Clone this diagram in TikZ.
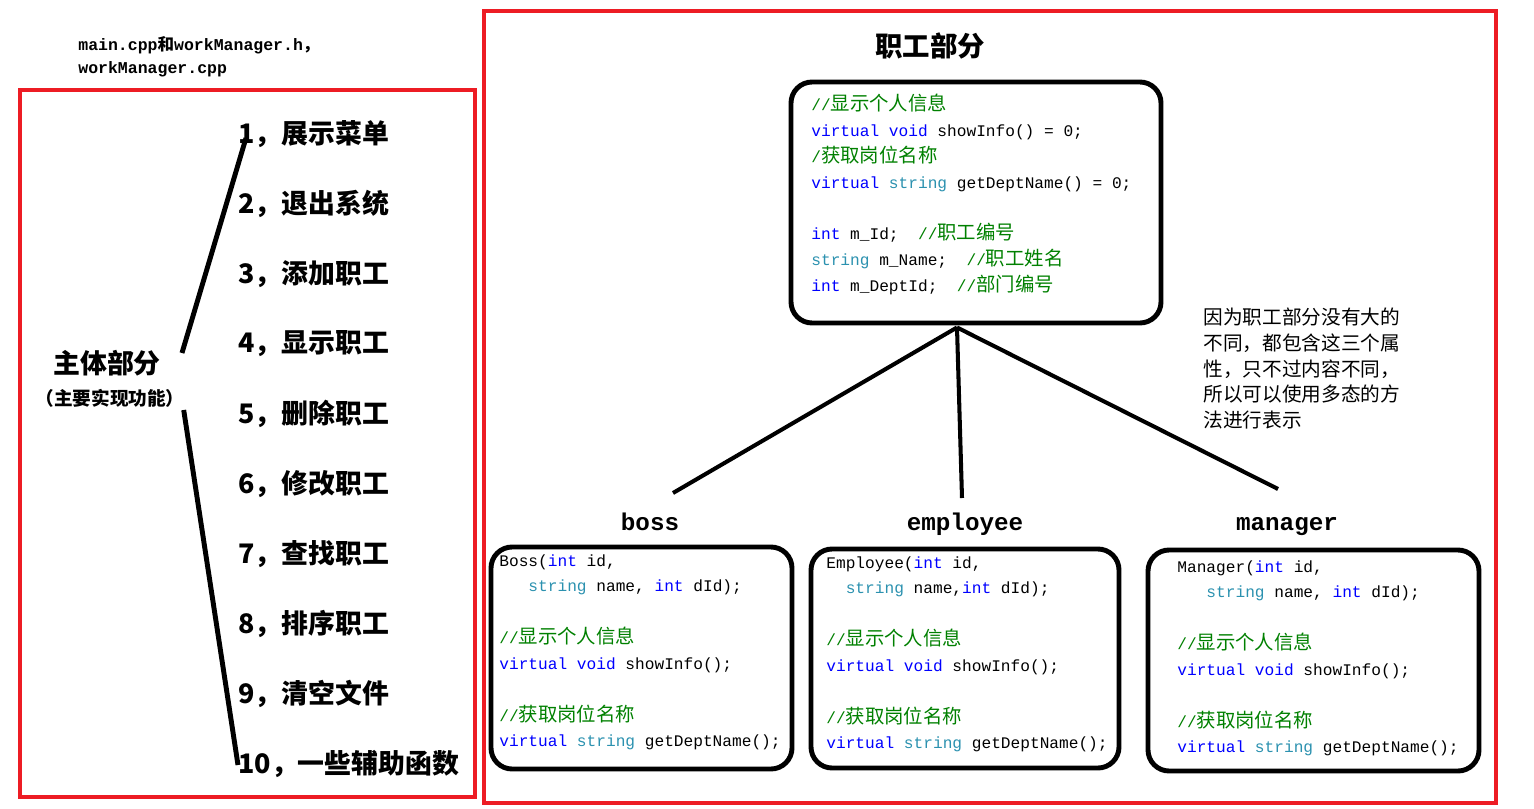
\documentclass[tikz,border=0pt]{standalone}
\usepackage{fontspec}
\setmonofont{Liberation Mono}
\newfontfamily\cjk{Noto Sans CJK SC}
\newfontfamily\cjkcode{Noto Sans CJK SC}[Scale=1.2]
\usetikzlibrary{positioning}
\usetikzlibrary{fit}
\usetikzlibrary{calc}
\definecolor{framered}{HTML}{ED1C24}
\definecolor{kwblue}{HTML}{0000FF}
\definecolor{tyteal}{HTML}{2B91AF}
\definecolor{cmgreen}{HTML}{008000}
\newcommand\kw[1]{\textcolor{kwblue}{#1}}
\newcommand\ty[1]{\textcolor{tyteal}{#1}}
\newcommand\cm[1]{\textcolor{cmgreen}{#1}}
\newcommand\zh[1]{{\cjkcode #1}}
\tikzset{frame/.style = {draw=framered, line width=2.3pt}}
\tikzset{codebox/.style = {draw, line width=2.8pt, rounded corners=12pt, inner sep=0}}
\tikzset{codetext/.style = {anchor=north west, inner sep=0, align=left, font=\ttfamily\fontsize{9.2}{14.7}\selectfont}}
\tikzset{menuitem/.style = {anchor=west, inner sep=0, font=\cjk\bfseries\fontsize{15.3}{18}\selectfont}}
\tikzset{classname/.style = {anchor=base, inner sep=0, font=\ttfamily\bfseries\fontsize{13.8}{16}\selectfont}}
\tikzset{link/.style = {line width=2.3pt}}
\tikzset{brace/.style = {line width=2.8pt}}

\begin{document}
\begin{tikzpicture}[x=0.02cm, y=-0.02cm]
        \useasboundingbox (0,0) rectangle (1534,808);
        % files note and the two frames
        \node[anchor=west, inner sep=0, align=left, font=\ttfamily\bfseries\fontsize{9.4}{13}\selectfont] (files) at (78,57) {main.cpp{\cjk 和}workManager.h{\cjk ，}\\workManager.cpp};
        \draw[frame] (20,90) rectangle (475,797);
        \draw[frame] (484,11) rectangle (1496,803);

        % left part: menu
        \node[font=\cjk\bfseries\fontsize{15.3}{18}\selectfont] (main) at (107,363) {主体部分};
        \node[font=\cjk\bfseries\fontsize{10.6}{12}\selectfont] (mainsub) at (110,398) {（主要实现功能）};
        \foreach \n/\t in {1/展示菜单, 2/退出系统, 3/添加职工, 4/显示职工, 5/删除职工, 6/修改职工, 7/查找职工, 8/排序职工, 9/清空文件, 10/一些辅助函数}
            \node[menuitem] (item\n) at (238,64+70*\n) {\n，\t};
        \draw[brace] ($(main.east)+(15,-10)$) -- ($(item1.west)+(8,4)$);
        \draw[brace] ($(mainsub.east)+(-7,12)$) -- ($(item10.west)+(0,1)$);

        % right part: worker classes
        \node[font=\cjk\bfseries\fontsize{15.6}{18}\selectfont] (title) at (930,46) {职工部分};
        \node[codebox, fit={(791,82) (1161,323)}] (topbox) {};
        \node[codetext] (toptext) at (811,94) {\cm{//\zh{显示个人信息}}\\
            \kw{virtual} \kw{void} showInfo() = 0;\\
            \cm{/\zh{获取岗位名称}}\\
            \kw{virtual} \ty{string} getDeptName() = 0;\\[14.7pt]
            \kw{int} m\_Id;~~\cm{//\zh{职工编号}}\\
            \ty{string} m\_Name;~~\cm{//\zh{职工姓名}}\\
            \kw{int} m\_DeptId;~~\cm{//\zh{部门编号}}};
        \node[anchor=north west, inner sep=0, align=left, font=\cjk\fontsize{11.2}{14.6}\selectfont] (note) at (1203,308) {因为职工部分没有大的\\不同，都包含这三个属\\性，只不过内容不同，\\所以可以使用多态的方\\法进行表示};

        \node[classname] (boss) at (650,530) {boss};
        \node[classname] (employee) at (965,530) {employee};
        \node[classname] (manager) at (1287,530) {manager};
        \draw[link] ($(topbox.south)+(-19,2)$) -- ($(boss.base)+(23,-37)$);
        \draw[link] ($(topbox.south)+(-19,2)$) -- ($(employee.base)+(-3,-32)$);
        \draw[link] ($(topbox.south)+(-19,2)$) -- ($(manager.base)+(-9,-41)$);

        \node[codebox, fit={(491,547) (792,769)}] (bossbox) {};
        \node[codetext] (bosstext) at (499,554) {Boss(\kw{int} id,\\
            \mbox{}~~~\ty{string} name,~\kw{int} dId);\\[14.7pt]
            \cm{//\zh{显示个人信息}}\\
            \kw{virtual} \kw{void} showInfo();\\[14.7pt]
            \cm{//\zh{获取岗位名称}}\\
            \kw{virtual} \ty{string} getDeptName();};
        \node[codebox, fit={(811,549) (1119,768)}] (employeebox) {};
        \node[codetext] (employeetext) at (826,556) {Employee(\kw{int} id,\\
            \mbox{}~~\ty{string} name,\kw{int} dId);\\[14.7pt]
            \cm{//\zh{显示个人信息}}\\
            \kw{virtual} \kw{void} showInfo();\\[14.7pt]
            \cm{//\zh{获取岗位名称}}\\
            \kw{virtual} \ty{string} getDeptName();};
        \node[codebox, fit={(1148,550) (1479,771)}] (managerbox) {};
        \node[codetext] (managertext) at (1177,560) {Manager(\kw{int} id,\\
            \mbox{}~~~\ty{string} name,~\kw{int} dId);\\[14.7pt]
            \cm{//\zh{显示个人信息}}\\
            \kw{virtual} \kw{void} showInfo();\\[14.7pt]
            \cm{//\zh{获取岗位名称}}\\
            \kw{virtual} \ty{string} getDeptName();};
    \end{tikzpicture}
\end{document}
